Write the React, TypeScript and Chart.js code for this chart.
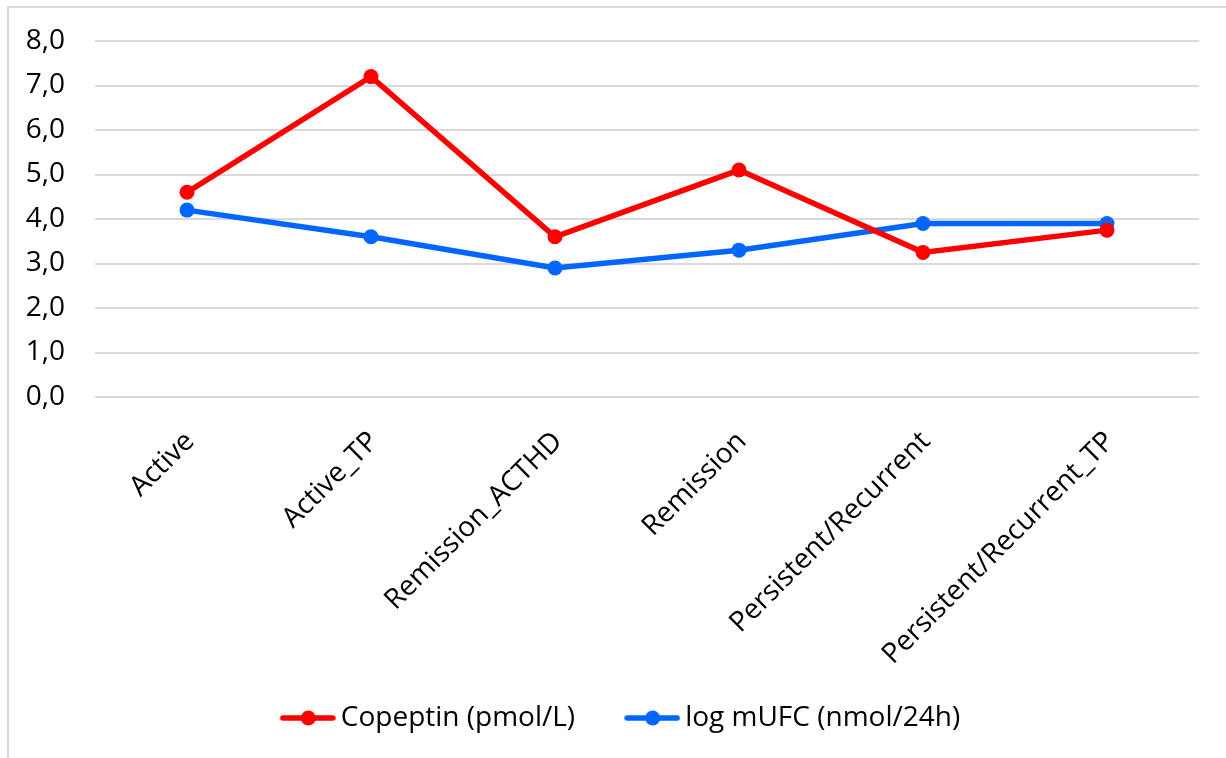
import React, { useEffect, useRef } from "react";
import { Chart, registerables } from "chart.js";

Chart.register(...registerables);

const categories = [
  "Active",
  "Active_TP",
  "Remission_ACTHD",
  "Remission",
  "Persistent/Recurrent",
  "Persistent/Recurrent_TP",
];
const copeptin = [4.6, 7.2, 3.6, 5.1, 3.25, 3.75];
const logMufc = [4.2, 3.6, 2.9, 3.3, 3.9, 3.9];
const seriesNames = ["Copeptin (pmol/L)", "log mUFC (nmol/24h)"];
const seriesColors = ["#ff0000", "#0066ff"];
const yMin = 0;
const yMax = 8;
const yStep = 1;

function makeLegendIcon(color: string): HTMLCanvasElement {
  const c = document.createElement("canvas");
  c.width = 104;
  c.height = 20;
  const ctx = c.getContext("2d")!;
  ctx.strokeStyle = color;
  ctx.fillStyle = color;
  ctx.lineWidth = 5.5;
  ctx.lineCap = "round";
  ctx.beginPath();
  ctx.moveTo(51, 10);
  ctx.lineTo(101, 10);
  ctx.stroke();
  ctx.beginPath();
  ctx.arc(76.5, 10, 7.5, 0, Math.PI * 2);
  ctx.fill();
  return c;
}

export default function App() {
  const ref = useRef<HTMLCanvasElement>(null);
  useEffect(() => {
    if (!ref.current) return;
    const icons = seriesColors.map(makeLegendIcon);
    const font = { family: "'Open Sans'", size: 28 };
    const chart = new Chart(ref.current, {
      type: "line",
      data: {
        labels: categories,
        datasets: [copeptin, logMufc].map((d, i) => ({
          label: seriesNames[i],
          data: d,
          borderColor: seriesColors[i],
          backgroundColor: seriesColors[i],
          borderWidth: 5.5,
          pointRadius: 7.5,
          pointBorderWidth: 0,
          pointBackgroundColor: seriesColors[i],
          tension: 0,
          fill: false,
        })),
      },
      options: {
        animation: false,
        responsive: false,
        layout: { padding: { top: 41, left: 2, right: 27, bottom: 16 } },
        plugins: {
          tooltip: { enabled: false },
          legend: {
            position: "bottom",
            labels: {
              usePointStyle: true,
              pointStyleWidth: 86,
              padding: 10,
              color: "#000",
              font,
              generateLabels: (c: any) => {
                const items = (Chart.defaults.plugins.legend.labels as any).generateLabels(c);
                items.forEach((it: any, i: number) => {
                  it.pointStyle = icons[i];
                });
                return items;
              },
            },
          },
        },
        scales: {
          x: {
            offset: true,
            grid: { display: false },
            border: { display: false },
            ticks: {
              color: "#000",
              font,
              minRotation: 45,
              maxRotation: 45,
              padding: 20,
              labelOffset: 3,
              autoSkip: false,
            },
            afterFit: (s: any) => {
              s.height = 297;
            },
          },
          y: {
            min: yMin,
            max: yMax,
            grid: { color: "#d9d9d9", lineWidth: 2, drawTicks: false },
            border: { display: false },
            ticks: {
              stepSize: yStep,
              color: "#000",
              font,
              padding: 30,
              callback: (v: any) => Number(v).toFixed(1).replace(".", ","),
            },
            afterFit: (s: any) => {
              s.width = 93;
              s.paddingTop = 0;
              s.paddingBottom = 0;
            },
          },
        },
      },
    });
    return () => chart.destroy();
  }, []);

  return (
    <div
      style={{
        position: "fixed",
        left: 0,
        top: 0,
        width: 1226,
        height: 758,
        overflow: "hidden",
        background: "#fff",
      }}
    >
      <div
        style={{
          position: "absolute",
          left: 7,
          top: 6,
          width: 1400,
          height: 900,
          borderTop: "2px solid #d9d9d9",
          borderLeft: "2px solid #d9d9d9",
        }}
      />
      <canvas
        ref={ref}
        width={1226}
        height={758}
        style={{ position: "absolute", left: 0, top: 0, display: "block" }}
      />
    </div>
  );
}
